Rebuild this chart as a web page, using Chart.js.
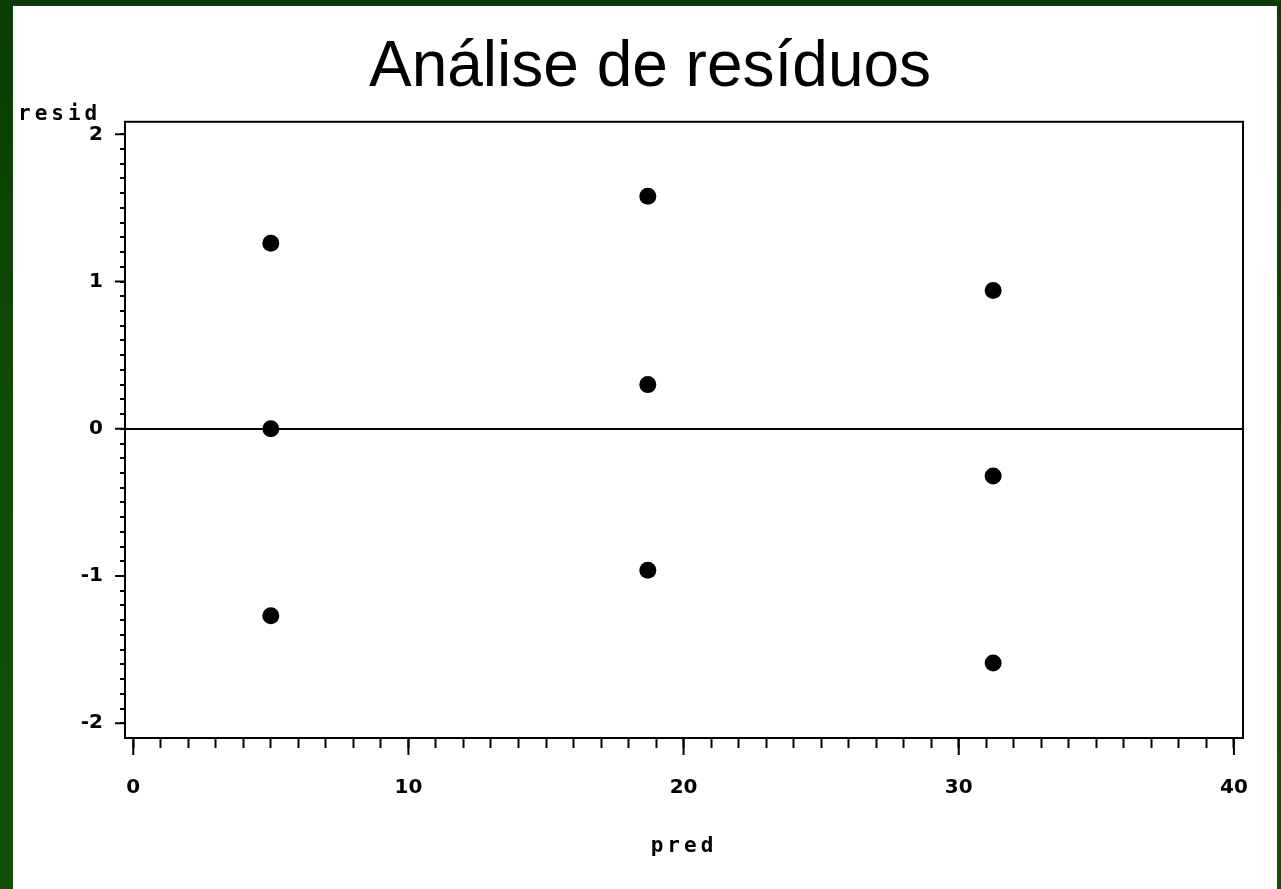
<!DOCTYPE html>
<html>
<head>
<meta charset="utf-8">
<script src="https://cdn.jsdelivr.net/npm/chart.js@4/dist/chart.umd.min.js"></script>
<style>
  html, body { margin: 0; padding: 0; }
  body { width: 1281px; height: 889px; background: linear-gradient(180deg, #0a3d03 0%, #0e4c04 50%, #0f5205 100%); position: relative; overflow: hidden; }
  #painel { position: absolute; left: 13px; top: 6px; width: 1264px; height: 883px; background: #fff; }
</style>
</head>
<body>
<div id="painel"><canvas id="grafico"></canvas></div>
<script>
// --- dados ---
const predito = [5.0, 5.0, 5.0, 18.7, 18.7, 18.7, 31.25, 31.25, 31.25];
const residuo = [1.26, 0.0, -1.27, 1.58, 0.30, -0.96, 0.94, -0.32, -1.59];
const rotulosY = [-2, -1, 0, 1, 2];
const rotulosX = [0, 10, 20, 30, 40];
const passoMenorY = 0.1;
const passoMenorX = 1;

const pontos = predito.map((p, i) => ({ x: p, y: residuo[i] }));
const perto = (a, b) => Math.abs(a - b) < 1e-6;

// marcas menores entre o primeiro e o último rótulo
function marcas(rotulos, passo) {
    const ini = rotulos[0], fim = rotulos[rotulos.length - 1];
    const n = Math.round((fim - ini) / passo);
    const lista = [];
    for (let i = 0; i <= n; i++) lista.push({ value: Math.round((ini + i * passo) * 1000) / 1000 });
    return lista;
}

// caixa do gráfico, marcas maiores e títulos dos eixos
const extras = {
    id: 'extras',
    afterDraw(chart) {
        const ctx = chart.ctx;
        const area = chart.chartArea;
        const sx = chart.scales.x, sy = chart.scales.y;
        ctx.save();
        ctx.strokeStyle = '#000';
        ctx.lineWidth = 2;
        ctx.strokeRect(area.left, area.top, area.right - area.left, area.bottom - area.top);

        ctx.beginPath();
        rotulosY.forEach(v => {
            const py = sy.getPixelForValue(v);
            ctx.moveTo(area.left - 10, py); ctx.lineTo(area.left, py);
        });
        rotulosX.forEach(v => {
            const px = sx.getPixelForValue(v);
            ctx.moveTo(px, area.bottom); ctx.lineTo(px, area.bottom + 17);
        });
        ctx.stroke();

        ctx.fillStyle = '#000';
        ctx.font = 'bold 21px "DejaVu Sans Mono"';
        ctx.letterSpacing = '4px';
        ctx.textBaseline = 'alphabetic';
        ctx.textAlign = 'left';
        ctx.fillText('resid', 5, area.top - 2);
        ctx.textAlign = 'center';
        ctx.fillText('pred', (area.left + area.right) / 2, 846);
        ctx.restore();
    }
};

new Chart(document.getElementById('grafico').getContext('2d'), {
    type: 'scatter',
    data: {
        datasets: [{
            label: 'resid',
            data: pontos,
            backgroundColor: '#000',
            borderColor: '#000',
            borderWidth: 0,
            pointRadius: 8.5,
            pointHoverRadius: 8.5
        }]
    },
    options: {
        responsive: true,
        maintainAspectRatio: false,
        animation: false,
        layout: { padding: { top: 0, right: 34, bottom: 0, left: 44 } },
        plugins: {
            legend: { display: false },
            tooltip: { enabled: false },
            title: {
                display: true,
                text: 'Análise de resíduos',
                color: '#000',
                font: { family: '"Liberation Sans", Arial, sans-serif', size: 64, weight: 'normal' },
                padding: { top: 24, bottom: 15 }
            }
        },
        scales: {
            x: {
                type: 'linear',
                min: -0.3,
                max: 40.33,
                afterFit: s => { s.height = 151; },
                afterBuildTicks: s => { s.ticks = marcas(rotulosX, passoMenorX); },
                border: { display: false },
                grid: { drawOnChartArea: false, tickLength: 10, tickColor: '#000', tickWidth: 2 },
                ticks: {
                    autoSkip: false,
                    maxRotation: 0,
                    padding: 28,
                    color: '#000',
                    font: { family: '"DejaVu Sans"', size: 20, weight: 'bold' },
                    callback: v => rotulosX.some(r => perto(r, v)) ? String(Math.round(v)) : ''
                }
            },
            y: {
                type: 'linear',
                min: -2.1,
                max: 2.085,
                afterFit: s => { s.width = 68; },
                afterBuildTicks: s => { s.ticks = marcas(rotulosY, passoMenorY); },
                border: { display: false },
                grid: {
                    color: c => (c.tick && perto(c.tick.value, 0)) ? '#000' : 'rgba(0,0,0,0)',
                    lineWidth: 2,
                    tickLength: 5,
                    tickColor: '#000',
                    tickWidth: 2
                },
                ticks: {
                    autoSkip: false,
                    padding: 17,
                    color: '#000',
                    font: { family: '"DejaVu Sans"', size: 20, weight: 'bold' },
                    callback: v => rotulosY.some(r => perto(r, v)) ? String(Math.round(v)) : ''
                }
            }
        }
    },
    plugins: [extras]
});
</script>
</body>
</html>
